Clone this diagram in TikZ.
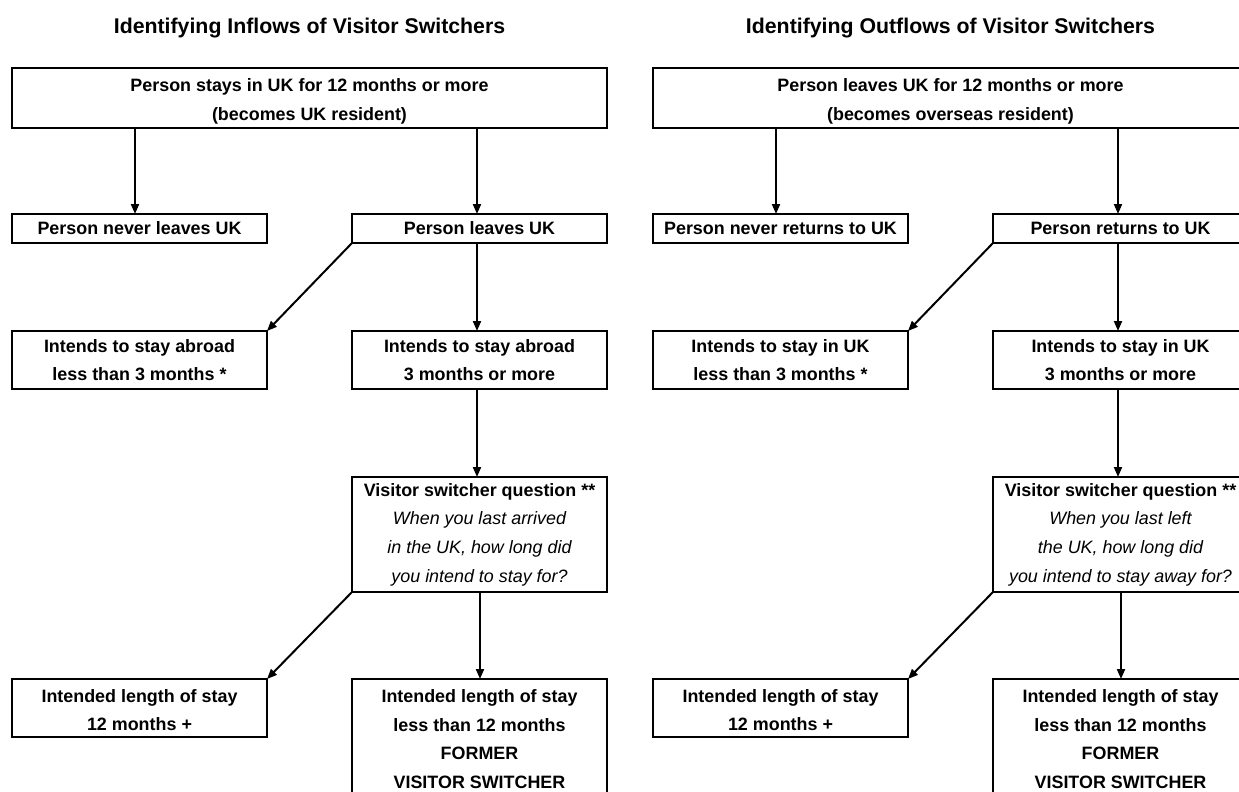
\documentclass[tikz,border=0pt]{standalone}
\usepackage{fontspec}
\setmainfont{Liberation Sans}
\usetikzlibrary{arrows.meta,calc}
\newcommand{\upstrut}[1]{\rule{0pt}{#1}}
\begin{document}
\begin{tikzpicture}[x=1pt,y=-1pt,
  box/.style={draw, line width=2pt, rectangle, inner sep=0pt, outer sep=0pt, align=center,
    font=\fontsize{17.9}{28.7}\selectfont\bfseries},
  arr/.style={line width=2pt, -{Triangle[length=10pt,width=8pt]}},
  ttl/.style={font=\fontsize{21.3}{26}\selectfont\bfseries, anchor=base, inner sep=0pt}]
\clip (0,0) rectangle (1239,792);
\fill[white] (0,0) rectangle (1239,792);

% ---------- Left panel ----------
\node[ttl] (Lt) at (309.5,34) {Identifying Inflows of Visitor Switchers};
\node[box, minimum width=595, minimum height=60] (LT) at (309.5,98)
  {\upstrut{20pt}Person stays in UK for 12 months or more\\(becomes UK resident)};
\node[box, minimum width=255, minimum height=29] (LA) at (139.5,228.5) {Person never leaves UK};
\node[box, minimum width=255, minimum height=29] (LB) at (479.5,228.5) {Person leaves UK};
\node[box, minimum width=255, minimum height=58] (LC) at (139.5,360) {Intends to stay abroad\\less than 3 months *};
\node[box, minimum width=255, minimum height=58] (LD) at (479.5,360) {Intends to stay abroad\\3 months or more};
\node[box, minimum width=255, minimum height=115] (LV) at (479.5,534.5)
  {Visitor switcher question **\\
   \mdseries\itshape When you last arrived\\
   \mdseries\itshape in the UK, how long did\\
   \mdseries\itshape you intend to stay for?};
\node[box, minimum width=255, minimum height=58] (LE) at (139.5,708) {\upstrut{17pt}Intended length of stay\\12 months +};
\node[box, minimum width=255, minimum height=120] (LF) at (479.5,739)
  {Intended length of stay\\less than 12 months\\FORMER\\VISITOR SWITCHER};

\coordinate (la) at (135,0);
\coordinate (lb) at (477,0);
\coordinate (lf) at (480,0);
\draw[arr] (LT.south -| la) -- (LA.north -| la);
\draw[arr] (LT.south -| lb) -- (LB.north -| lb);
\draw[arr] (LB.south west) -- (LC.north east);
\draw[arr] (LB.south -| lb) -- (LD.north -| lb);
\draw[arr] (LD.south -| lb) -- (LV.north -| lb);
\draw[arr] (LV.south west) -- (LE.north east);
\draw[arr] (LV.south -| lf) -- (LF.north -| lf);

% ---------- Right panel ----------
\node[ttl] (Rt) at (950.5,34) {Identifying Outflows of Visitor Switchers};
\node[box, minimum width=595, minimum height=60] (RT) at (950.5,98)
  {\upstrut{20pt}Person leaves UK for 12 months or more\\(becomes overseas resident)};
\node[box, minimum width=255, minimum height=29] (RA) at (780.5,228.5) {Person never returns to UK};
\node[box, minimum width=255, minimum height=29] (RB) at (1120.5,228.5) {Person returns to UK};
\node[box, minimum width=255, minimum height=58] (RC) at (780.5,360) {Intends to stay in UK\\less than 3 months *};
\node[box, minimum width=255, minimum height=58] (RD) at (1120.5,360) {Intends to stay in UK\\3 months or more};
\node[box, minimum width=255, minimum height=115] (RV) at (1120.5,534.5)
  {Visitor switcher question **\\
   \mdseries\itshape When you last left\\
   \mdseries\itshape the UK, how long did\\
   \mdseries\itshape you intend to stay away for?};
\node[box, minimum width=255, minimum height=58] (RE) at (780.5,708) {\upstrut{17pt}Intended length of stay\\12 months +};
\node[box, minimum width=255, minimum height=120] (RF) at (1120.5,739)
  {Intended length of stay\\less than 12 months\\FORMER\\VISITOR SWITCHER};

\coordinate (ra) at (776,0);
\coordinate (rb) at (1118,0);
\coordinate (rf) at (1121,0);
\draw[arr] (RT.south -| ra) -- (RA.north -| ra);
\draw[arr] (RT.south -| rb) -- (RB.north -| rb);
\draw[arr] (RB.south west) -- (RC.north east);
\draw[arr] (RB.south -| rb) -- (RD.north -| rb);
\draw[arr] (RD.south -| rb) -- (RV.north -| rb);
\draw[arr] (RV.south west) -- (RE.north east);
\draw[arr] (RV.south -| rf) -- (RF.north -| rf);
\end{tikzpicture}
\end{document}
